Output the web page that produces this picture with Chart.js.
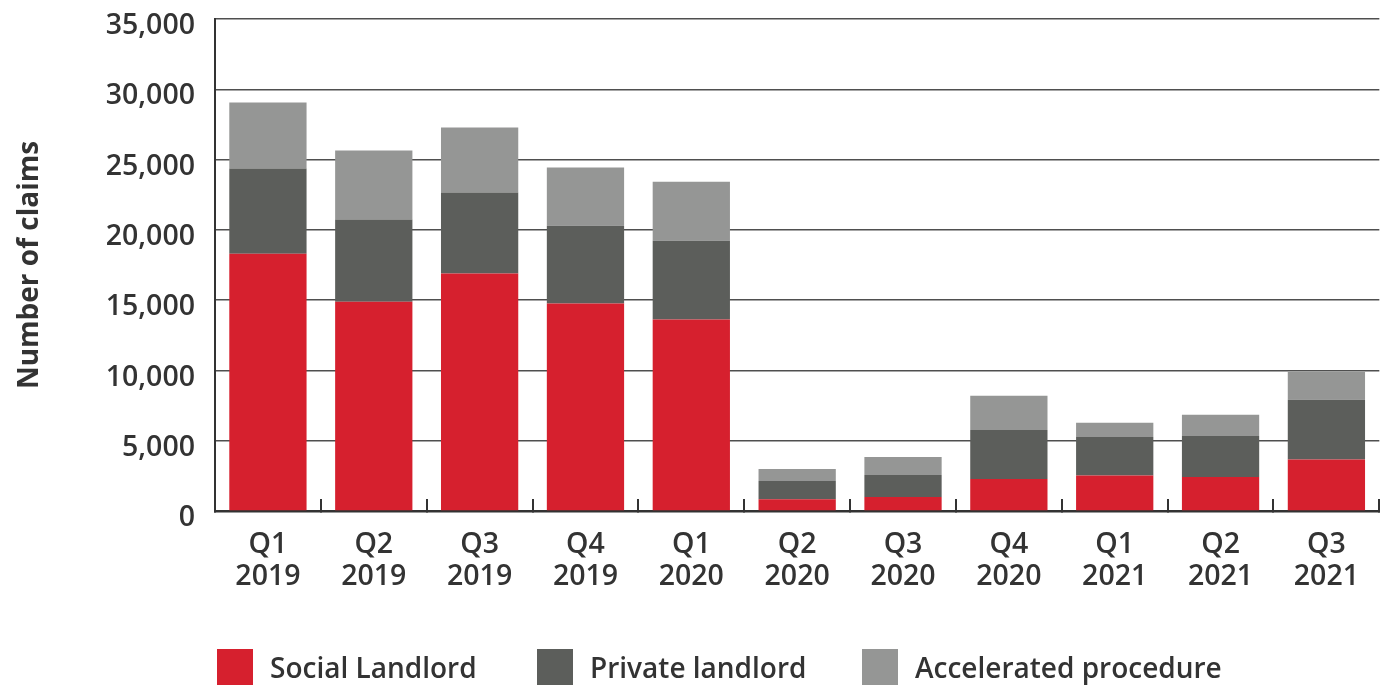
<!DOCTYPE html>
<html lang="en">
<head>
    <meta charset="UTF-8">
    <script src="https://cdn.jsdelivr.net/npm/chart.js"></script>
    <title>Number of claims</title>
    <style>
        body { margin: 0; background: #fff; }
        .wrap { position: relative; width: 1389px; height: 685px; }
        .legend { position: absolute; top: 649px; left: 0; width: 1389px; height: 36px;
                  font-family: "Open Sans", sans-serif; font-weight: 600; font-size: 28px; color: #333; }
        .legend span.box { position: absolute; top: 0; width: 36px; height: 36px; }
        .legend span.txt { position: absolute; top: 0; line-height: 36px; white-space: nowrap; }
    </style>
</head>
<body>
    <div class="wrap">
        <canvas id="claimsChart" width="1389" height="685"></canvas>
        <div class="legend" id="legend"></div>
    </div>
    <script>
        // values (number of claims per quarter)
        const quarters = [
            ['Q1', '2019'], ['Q2', '2019'], ['Q3', '2019'], ['Q4', '2019'],
            ['Q1', '2020'], ['Q2', '2020'], ['Q3', '2020'], ['Q4', '2020'],
            ['Q1', '2021'], ['Q2', '2021'], ['Q3', '2021']
        ];
        const socialLandlord = [18300, 14890, 16900, 14770, 13630, 840, 1000, 2280, 2520, 2420, 3660];
        const privateLandlord = [6060, 5840, 5750, 5530, 5600, 1300, 1560, 3490, 2750, 2920, 4250];
        const acceleratedProcedure = [4700, 4910, 4630, 4130, 4200, 850, 1290, 2420, 1000, 1500, 1990];
        const seriesNames = ['Social Landlord', 'Private landlord', 'Accelerated procedure'];
        const seriesColors = ['#d6202e', '#5c5e5b', '#959695'];
        const yMax = 35000;
        const yStep = 5000;

        const txt = '#333333';
        const font = 'Open Sans';

        const data = {
            labels: quarters,
            datasets: [socialLandlord, privateLandlord, acceleratedProcedure].map((vals, i) => ({
                label: seriesNames[i],
                data: vals,
                backgroundColor: seriesColors[i],
                borderWidth: 0,
                categoryPercentage: 1,
                barPercentage: 0.73
            }))
        };

        const config = {
            type: 'bar',
            data: data,
            options: {
                responsive: false,
                animation: false,
                layout: { padding: { top: 19, right: 0, bottom: 0, left: 0 } },
                plugins: {
                    legend: { display: false },
                    tooltip: { enabled: false }
                },
                scales: {
                    x: {
                        stacked: true,
                        grid: {
                            display: true,
                            offset: true,
                            drawOnChartArea: false,
                            drawTicks: true,
                            tickLength: -12,
                            color: '#333',
                            lineWidth: 2
                        },
                        border: { display: true, color: '#333', width: 2.5 },
                        ticks: {
                            color: txt,
                            padding: 30,
                            maxRotation: 0,
                            autoSkip: false,
                            font: { family: font, size: 28.5, weight: '600', lineHeight: 1.12 }
                        },
                        afterFit: (scale) => { scale.height = 174; }
                    },
                    y: {
                        stacked: true,
                        min: 0,
                        max: yMax,
                        ticks: {
                            stepSize: yStep,
                            color: txt,
                            padding: 20,
                            labelOffset: 7,
                            font: { family: font, size: 28.5, weight: '600' },
                            callback: (v) => v.toLocaleString('en-US')
                        },
                        grid: { color: '#4f4f4f', lineWidth: 1.5, drawTicks: false },
                        border: { display: true, color: '#333', width: 2 },
                        title: {
                            display: true,
                            text: 'Number of claims',
                            color: txt,
                            padding: { top: 13, bottom: 0 },
                            font: { family: font, size: 28, weight: 'bold' }
                        },
                        afterFit: (scale) => {
                            scale.width = 215;
                            scale.paddingTop = 0;
                            scale.paddingBottom = 0;
                        }
                    }
                }
            }
        };

        const myChart = new Chart(document.getElementById('claimsChart'), config);

        // legend under the chart
        const legendPos = [217, 537, 862];
        const legendEl = document.getElementById('legend');
        seriesNames.forEach((name, i) => {
            const b = document.createElement('span');
            b.className = 'box';
            b.style.left = legendPos[i] + 'px';
            b.style.background = seriesColors[i];
            const t = document.createElement('span');
            t.className = 'txt';
            t.style.left = (legendPos[i] + 53) + 'px';
            t.textContent = name;
            legendEl.appendChild(b);
            legendEl.appendChild(t);
        });
    </script>
</body>
</html>
